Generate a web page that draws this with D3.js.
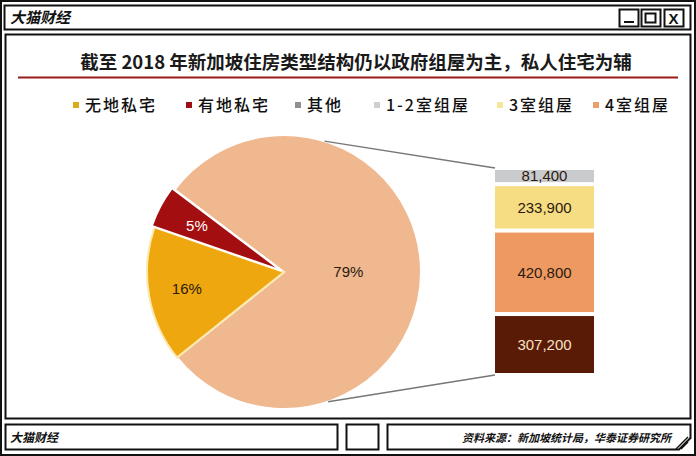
<!DOCTYPE html>
<html>
<head>
<meta charset="utf-8">
<script src="https://cdn.jsdelivr.net/npm/d3@7"></script>
<style>
  body { margin: 0; background: #fff; }
  svg { display: block; }
  .cn { font-family: "Noto Sans CJK SC", sans-serif; }
  .num { font-family: "Liberation Sans", Arial, sans-serif; }
</style>
</head>
<body>
<div id="chart"></div>
<script>
// data
var pieNames = ['政府组屋', '无地私宅', '有地私宅'];
var pieValues = [79, 16, 5];
var pieColors = ['#f0b88f', '#efa70f', '#a30f10'];

var barNames = ['5室及以上组屋', '4室组屋', '3室组屋', '1-2室组屋'];
var barValues = [307200, 420800, 233900, 81400];
var barColors = ['#5a1b06', '#ee9962', '#f6dc82', '#c9cbcd'];
var barTextColors = ['#f6e2c8', '#2a1a10', '#2a1a10', '#2a1a10'];

var legendNames = ['无地私宅', '有地私宅', '其他', '1-2室组屋', '3室组屋', '4室组屋'];
var legendColors = ['#d9ac1c', '#a00d12', '#8f8f8f', '#cfcfcf', '#f3e79a', '#e9a06c'];

var W = 696, H = 456;
var svg = d3.select('#chart').append('svg')
  .attr('width', W)
  .attr('height', H);

// ---------- frame ----------
svg.append('rect').attr('x', 1).attr('y', 1).attr('width', W - 2).attr('height', H - 2)
  .attr('fill', '#fff').attr('stroke', '#111').attr('stroke-width', 2);

// title bar
svg.append('rect').attr('x', 4.5).attr('y', 5.5).attr('width', 686).attr('height', 24)
  .attr('fill', '#fff').attr('stroke', '#111').attr('stroke-width', 2);
svg.append('text').attr('class', 'cn')
  .attr('x', 10).attr('y', 23)
  .attr('font-size', 15).attr('font-weight', 'bold').attr('font-style', 'italic')
  .attr('fill', '#111')
  .text('大猫财经');

var btnX = [619, 641, 664];
btnX.forEach(function(x, i) {
  svg.append('rect').attr('x', x + 0.5).attr('y', 9.5).attr('width', 19).attr('height', 17)
    .attr('fill', '#fff').attr('stroke', '#111').attr('stroke-width', 2);
});
svg.append('line').attr('x1', 624).attr('x2', 634).attr('y1', 22).attr('y2', 22)
  .attr('stroke', '#111').attr('stroke-width', 2);
svg.append('rect').attr('x', 645.5).attr('y', 13.5).attr('width', 10).attr('height', 9)
  .attr('fill', 'none').attr('stroke', '#111').attr('stroke-width', 2);
svg.append('text').attr('class', 'num')
  .attr('x', 673.5).attr('y', 23.5).attr('text-anchor', 'middle')
  .attr('font-size', 15).attr('font-weight', 'bold').attr('fill', '#111')
  .text('X');

// main panel
svg.append('rect').attr('x', 5.5).attr('y', 34.5).attr('width', 685).attr('height', 384)
  .attr('fill', '#fff').attr('stroke', '#111').attr('stroke-width', 2);

// footer boxes
svg.append('rect').attr('x', 5.5).attr('y', 424.5).attr('width', 332).attr('height', 25)
  .attr('fill', '#fff').attr('stroke', '#111').attr('stroke-width', 2);
svg.append('rect').attr('x', 346.5).attr('y', 424.5).attr('width', 32).attr('height', 25)
  .attr('fill', '#fff').attr('stroke', '#111').attr('stroke-width', 2);
svg.append('path')
  .attr('d', 'M387.5,424.5 H690.5 V438 L679,449.5 H387.5 Z')
  .attr('fill', '#fff').attr('stroke', '#111').attr('stroke-width', 2);
[0, 5].forEach(function(o) {
  svg.append('line').attr('x1', 676 + o).attr('y1', 449).attr('x2', 688).attr('y2', 437 + o)
    .attr('stroke', '#111').attr('stroke-width', 1.5);
});
svg.append('text').attr('class', 'cn')
  .attr('x', 10).attr('y', 442)
  .attr('font-size', 12).attr('font-weight', 'bold').attr('font-style', 'italic')
  .attr('fill', '#111')
  .text('大猫财经');
svg.append('text').attr('class', 'cn')
  .attr('x', 671).attr('y', 442).attr('text-anchor', 'end')
  .attr('font-size', 11).attr('font-weight', 'bold').attr('font-style', 'italic')
  .attr('fill', '#111')
  .text('资料来源：新加坡统计局，华泰证券研究所');

// ---------- chart title ----------
svg.append('text').attr('class', 'cn')
  .attr('x', 356).attr('y', 69).attr('text-anchor', 'middle')
  .attr('font-size', 18.5).attr('font-weight', 'bold').attr('fill', '#1a1a1a')
  .text('截至 2018 年新加坡住房类型结构仍以政府组屋为主，私人住宅为辅');
svg.append('line').attr('x1', 18).attr('x2', 678).attr('y1', 77.5).attr('y2', 77.5)
  .attr('stroke', '#9c1b1b').attr('stroke-width', 2);

// ---------- legend ----------
var legendX = [73, 186, 295, 374, 497, 593];
var legend = svg.selectAll('.legend')
  .data(legendNames)
  .enter().append('g')
  .attr('class', 'legend')
  .attr('transform', function(d, i) { return 'translate(' + legendX[i] + ',105)'; });
legend.append('rect')
  .attr('x', 0).attr('y', -3).attr('width', 6).attr('height', 6)
  .attr('fill', function(d, i) { return legendColors[i]; });
legend.append('text').attr('class', 'cn')
  .attr('x', 12).attr('y', 6)
  .attr('font-size', 16).attr('letter-spacing', 2)
  .attr('font-weight', 500)
  .attr('fill', '#111')
  .text(function(d) { return d; });

// ---------- pie ----------
var cx = 284, cy = 272, R = 137;
var start = -53 * Math.PI / 180;
var pie = d3.pie().sort(null).startAngle(start).endAngle(start + 2 * Math.PI);
var arcs = pie(pieValues);
var arc = d3.arc().innerRadius(0).outerRadius(R);

var pieG = svg.append('g').attr('transform', 'translate(' + cx + ',' + cy + ')');
pieG.selectAll('path')
  .data(arcs)
  .enter().append('path')
  .attr('d', arc)
  .attr('fill', function(d, i) { return pieColors[i]; })
  .attr('stroke', function(d, i) { return i === 1 ? '#fbe9b0' : '#fff'; })
  .attr('stroke-width', 2)
  .attr('transform', function(d, i) {
    if (i !== 2) return null;
    var m = (d.startAngle + d.endAngle) / 2;
    return 'translate(' + (3 * Math.sin(m)) + ',' + (-3 * Math.cos(m)) + ')';
  });

pieG.selectAll('.plabel')
  .data(arcs)
  .enter().append('text')
  .attr('class', 'num plabel')
  .attr('transform', function(d, i) {
    var r = i === 0 ? 0.47 * R : 0.72 * R;
    var c = d3.arc().innerRadius(r).outerRadius(r).centroid(d);
    return 'translate(' + c[0] + ',' + c[1] + ')';
  })
  .attr('text-anchor', 'middle').attr('dy', '0.36em')
  .attr('font-size', 15)
  .attr('fill', function(d, i) { return i === 2 ? '#fff' : '#2a1a10'; })
  .text(function(d) { return d.data + '%'; });

// ---------- stacked bar ----------
var total = d3.sum(barValues);
var yBar = d3.scaleLinear().domain([0, total]).range([375, 168]);
var barX = 495, barW = 99;
var stacked = [];
var acc = 0;
barValues.forEach(function(v, i) {
  stacked.push({ v: v, y0: acc, y1: acc + v, i: i });
  acc += v;
});

// connector lines from the big slice to the bar
var a0 = arcs[0];
var mid = (a0.startAngle + a0.endAngle) / 2;
var spread = 72 * Math.PI / 180;
[[mid - spread, yBar(total)], [mid + spread, yBar(0)]].forEach(function(p) {
  svg.append('line')
    .attr('x1', cx + R * Math.sin(p[0])).attr('y1', cy - R * Math.cos(p[0]))
    .attr('x2', barX).attr('y2', p[1])
    .attr('stroke', '#777').attr('stroke-width', 1.5);
});

var bars = svg.selectAll('.seg')
  .data(stacked)
  .enter().append('g')
  .attr('class', 'seg');
bars.append('rect')
  .attr('x', barX).attr('width', barW)
  .attr('y', function(d) { return yBar(d.y1) + 2; })
  .attr('height', function(d) { return yBar(d.y0) - yBar(d.y1) - 4; })
  .attr('fill', function(d) { return barColors[d.i]; });
bars.append('text').attr('class', 'num')
  .attr('x', barX + barW / 2)
  .attr('y', function(d) { return (yBar(d.y0) + yBar(d.y1)) / 2; })
  .attr('dy', '0.36em').attr('text-anchor', 'middle')
  .attr('font-size', 15)
  .attr('fill', function(d) { return barTextColors[d.i]; })
  .text(function(d) { return d3.format(',')(d.v); });
</script>
</body>
</html>
